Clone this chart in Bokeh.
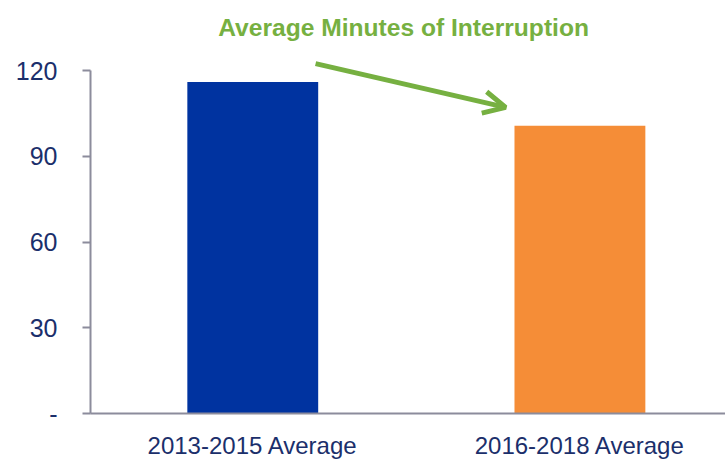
from bokeh.plotting import figure
from bokeh.models import Range1d, FixedTicker, Label, Arrow, OpenHead, ColumnDataSource
from bokeh.embed import file_html
from bokeh.resources import INLINE

categories = ["2013-2015 Average", "2016-2018 Average"]
values = [116.0, 100.7]
bar_colors = ["#0033A0", "#F58D37"]
y_ticks = [0, 30, 60, 90, 120]
y_tick_labels = ["-", "30", "60", "90", "120"]
title_text = "Average Minutes of Interruption"

FONT = "'Liberation Sans Narrow', 'Arial Narrow', 'Liberation Sans', sans-serif"
NAVY = "#1B2F6B"
GREEN = "#76B041"
AXIS = "#8C8C9C"

xpos = [i + 0.5 for i in range(len(categories))]
src = ColumnDataSource(dict(x=xpos, top=values, color=bar_colors))

p = figure(width=725, height=461, output_backend="svg", toolbar_location=None,
           x_range=Range1d(0.004, 1.945), y_range=Range1d(0, 144.5),
           min_border_left=90, min_border_right=0, min_border_top=0, min_border_bottom=48)
p.outline_line_color = None
p.xgrid.grid_line_color = None
p.ygrid.grid_line_color = None
p.background_fill_color = "white"

p.vbar(x="x", top="top", width=0.40, color="color", source=src, line_color=None)

p.yaxis.bounds = (0, 120)
p.yaxis.ticker = FixedTicker(ticks=y_ticks)
p.yaxis.major_label_overrides = {t: l for t, l in zip(y_ticks, y_tick_labels)}
p.yaxis.minor_tick_line_color = None
p.yaxis.major_tick_in = 0
p.yaxis.major_tick_out = 8
p.yaxis.major_label_standoff = 25
p.yaxis.axis_line_color = AXIS
p.yaxis.axis_line_width = 2
p.yaxis.major_tick_line_color = AXIS
p.yaxis.major_tick_line_width = 2
p.yaxis.major_label_text_font = FONT
p.yaxis.major_label_text_font_size = "25px"
p.yaxis.major_label_text_color = NAVY

p.xaxis.ticker = FixedTicker(ticks=xpos)
p.xaxis.major_label_overrides = {x: c for x, c in zip(xpos, categories)}
p.xaxis.minor_tick_line_color = None
p.xaxis.major_tick_line_color = None
p.xaxis.major_tick_in = 0
p.xaxis.major_tick_out = 0
p.xaxis.major_label_standoff = 18
p.xaxis.axis_line_color = AXIS
p.xaxis.axis_line_width = 2
p.xaxis.major_label_text_font = FONT
p.xaxis.major_label_text_font_size = "24px"
p.xaxis.major_label_text_color = NAVY

p.add_layout(Label(x=0.961, y=135.0, text=title_text, text_align="center",
                   text_baseline="alphabetic", text_font=FONT, text_font_size="24.6px",
                   text_font_style="bold", text_color=GREEN))

p.add_layout(Arrow(x_start=0.692, y_start=122.4, x_end=1.273, y_end=107.1,
                   line_color=GREEN, line_width=5,
                   end=OpenHead(size=22, line_color=GREEN, line_width=5)))

open("out.html", "w").write(file_html(p, INLINE))
